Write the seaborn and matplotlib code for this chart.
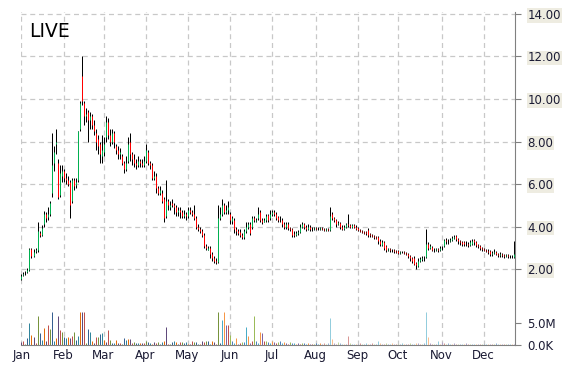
import numpy as np
import pandas as pd
import matplotlib
matplotlib.use("Agg")
import matplotlib.pyplot as plt
import seaborn as sns

# daily OHLC per month
open_ = [
    1.55, 1.70, 1.80, 1.85, 1.95, 2.95, 2.60, 2.85, 2.90, 3.70, 3.60, 4.10, 4.60, 4.45, 4.60, 5.60, 7.00, 7.90, 7.00, 5.50, 6.40,
    6.60, 6.30, 6.20, 6.10, 5.20, 6.20, 5.95, 6.20, 8.60, 11.10, 9.80, 9.20, 9.40, 9.00, 9.20, 8.80, 8.40, 8.10, 7.90, 7.30,
    7.50, 8.20, 8.90, 8.30, 8.00, 8.40, 7.80, 7.60, 7.40, 7.30, 7.00, 6.70, 7.10, 8.00, 7.40, 7.20, 7.00, 6.90, 7.10, 7.00, 6.90,
    7.10, 7.50, 7.00, 6.90, 6.30, 6.40, 5.80, 5.60, 5.60, 5.30, 4.50, 5.20, 4.90, 5.10, 5.00, 4.90, 4.70, 4.80, 4.70, 4.50, 4.60,
    4.50, 4.80, 4.70, 4.60, 4.40, 4.00, 3.90, 3.80, 3.60, 3.10, 2.90, 3.00, 2.70, 2.50, 2.40, 2.35, 4.40, 4.60, 5.00, 4.70, 4.80,
    4.60, 4.25, 4.30, 3.90, 3.80, 3.75, 3.60, 3.50, 3.80, 4.00, 4.10, 4.00, 4.40, 4.25, 4.40, 4.70, 4.30, 4.20, 4.30, 4.55, 4.40,
    4.60, 4.70, 4.60, 4.45, 4.30, 4.30, 4.10, 4.00, 4.10, 3.95, 3.90, 3.65, 3.60, 3.70, 3.75, 4.00, 4.10, 4.00, 3.90, 4.00, 3.90, 3.90,
    3.95, 3.90, 3.90, 3.95, 3.90, 3.85, 3.90, 3.85, 4.60, 4.40, 4.30, 4.10, 4.15, 4.00, 3.90, 4.00, 4.10, 4.05, 4.00, 4.05, 4.00,
    3.95, 3.85, 3.80, 3.75, 3.75, 3.85, 3.65, 3.60, 3.55, 3.50, 3.50, 3.30, 3.15, 3.25, 3.10, 2.90, 2.95, 2.90, 2.90, 2.85,
    2.85, 2.75, 2.80, 2.80, 2.75, 2.70, 2.60, 2.50, 2.50, 2.30, 2.15, 2.40, 2.45, 2.50, 2.55, 3.20, 3.00, 3.05, 2.90, 2.90, 2.95, 2.90,
    3.00, 3.10, 3.35, 3.30, 3.30, 3.35, 3.45, 3.55, 3.40, 3.30, 3.25, 3.25, 3.20, 3.20, 3.15, 3.20, 3.35, 3.25, 3.15, 3.10, 3.00,
    2.95, 2.90, 2.85, 2.85, 2.70, 2.75, 2.80, 2.70, 2.65, 2.70, 2.65, 2.60, 2.65, 2.60, 2.55, 2.55,
]
high = [
    1.75, 1.85, 1.90, 2.05, 3.00, 3.00, 2.95, 3.00, 4.20, 3.80, 4.05, 4.75, 4.70, 4.90, 5.20, 8.40, 7.80, 8.60, 7.20, 6.90, 6.90,
    6.70, 6.50, 6.40, 6.20, 6.30, 6.30, 6.30, 8.50, 9.90, 12.00, 9.90, 9.60, 9.50, 9.40, 9.30, 9.00, 8.60, 8.30, 8.00, 8.30,
    8.20, 9.20, 9.10, 8.60, 8.60, 8.50, 7.90, 7.80, 7.70, 7.40, 7.10, 7.30, 8.20, 8.40, 7.50, 7.40, 7.20, 7.30, 7.20, 7.20, 7.30,
    7.90, 7.60, 7.10, 7.00, 6.60, 6.50, 5.90, 5.90, 5.70, 5.40, 6.20, 5.30, 5.20, 5.30, 5.10, 5.00, 4.90, 4.90, 4.80, 4.80, 4.70,
    4.90, 4.90, 4.80, 5.00, 4.50, 4.10, 4.00, 3.90, 3.70, 3.20, 3.10, 3.10, 2.80, 2.60, 2.50, 5.00, 4.90, 5.30, 5.10, 5.00, 5.20,
    4.70, 4.50, 4.40, 4.00, 3.90, 3.90, 3.70, 3.90, 4.20, 4.20, 4.20, 4.50, 4.50, 4.40, 4.90, 4.80, 4.40, 4.40, 4.60, 4.60, 4.80,
    4.80, 4.80, 4.70, 4.50, 4.50, 4.40, 4.20, 4.20, 4.20, 4.00, 3.95, 3.80, 3.80, 3.85, 4.10, 4.20, 4.15, 4.05, 4.10, 4.05, 4.00, 4.00,
    4.00, 4.00, 4.00, 4.00, 3.95, 3.95, 3.95, 4.90, 4.70, 4.45, 4.35, 4.25, 4.20, 4.05, 4.05, 4.15, 4.60, 4.10, 4.10, 4.10, 4.05,
    4.00, 3.90, 3.85, 3.80, 3.80, 3.95, 3.70, 3.65, 3.60, 3.55, 3.55, 3.40, 3.35, 3.30, 3.15, 3.00, 3.00, 2.95, 2.95, 2.90,
    2.90, 2.85, 2.85, 2.85, 2.80, 2.75, 2.65, 2.55, 2.60, 2.35, 2.50, 2.55, 2.60, 2.60, 3.90, 3.25, 3.20, 3.10, 3.00, 3.00, 3.00, 3.10,
    3.10, 3.40, 3.45, 3.40, 3.45, 3.55, 3.60, 3.60, 3.45, 3.35, 3.30, 3.30, 3.30, 3.25, 3.35, 3.40, 3.40, 3.30, 3.20, 3.15, 3.05,
    3.00, 2.95, 2.95, 2.90, 2.85, 2.95, 2.85, 2.75, 2.80, 2.75, 2.70, 2.70, 2.70, 2.65, 2.65, 3.30,
]
low = [
    1.50, 1.65, 1.72, 1.80, 1.90, 2.50, 2.55, 2.75, 2.80, 3.50, 3.55, 4.00, 4.20, 4.30, 4.50, 5.40, 6.60, 7.40, 5.30, 5.40, 6.10,
    6.10, 6.00, 5.90, 4.40, 5.10, 5.70, 5.80, 6.10, 8.50, 9.70, 8.80, 8.90, 8.00, 8.60, 8.60, 8.30, 7.60, 7.40, 7.00, 7.00,
    7.30, 8.00, 8.10, 7.80, 7.90, 7.70, 7.40, 7.20, 7.20, 6.90, 6.50, 6.60, 7.00, 7.10, 6.90, 6.80, 6.70, 6.80, 6.80, 6.80, 6.80,
    7.00, 6.90, 6.70, 6.20, 6.20, 5.60, 5.50, 5.50, 5.10, 4.20, 4.40, 4.80, 4.80, 4.90, 4.60, 4.50, 4.50, 4.40, 4.40, 4.40, 4.30,
    4.40, 4.60, 4.50, 4.30, 3.90, 3.80, 3.70, 3.50, 3.00, 2.90, 2.90, 2.50, 2.40, 2.30, 2.25, 2.30, 4.30, 4.50, 4.60, 4.60, 4.60,
    4.10, 4.10, 3.70, 3.60, 3.60, 3.50, 3.40, 3.40, 3.70, 3.90, 3.60, 3.90, 4.20, 4.20, 4.30, 4.20, 4.10, 4.20, 4.20, 4.20, 4.30,
    4.50, 4.50, 4.30, 4.20, 4.20, 4.00, 3.90, 3.90, 3.85, 3.80, 3.50, 3.50, 3.55, 3.60, 3.70, 3.95, 3.90, 3.80, 3.85, 3.80, 3.80, 3.85,
    3.85, 3.85, 3.85, 3.85, 3.80, 3.80, 3.80, 3.80, 4.30, 4.20, 4.00, 4.05, 3.90, 3.85, 3.85, 3.95, 4.00, 3.95, 3.95, 3.95, 3.85,
    3.80, 3.75, 3.70, 3.65, 3.60, 3.50, 3.50, 3.50, 3.40, 3.40, 3.20, 3.10, 3.10, 2.90, 2.80, 2.85, 2.80, 2.80, 2.75, 2.75,
    2.70, 2.70, 2.75, 2.70, 2.65, 2.50, 2.40, 2.30, 2.20, 2.00, 2.10, 2.35, 2.40, 2.40, 2.50, 2.90, 2.95, 2.85, 2.80, 2.85, 2.80, 2.85,
    2.90, 3.05, 3.20, 3.20, 3.25, 3.30, 3.40, 3.30, 3.20, 3.15, 3.10, 3.10, 3.10, 3.05, 3.10, 3.15, 3.15, 3.05, 3.00, 2.90, 2.85,
    2.85, 2.80, 2.70, 2.60, 2.60, 2.70, 2.65, 2.55, 2.55, 2.55, 2.50, 2.55, 2.50, 2.50, 2.50, 2.50,
]
close = [
    1.65, 1.75, 1.80, 1.95, 2.95, 2.60, 2.80, 2.90, 3.80, 3.60, 3.95, 4.60, 4.40, 4.60, 5.10, 6.90, 7.50, 8.00, 5.40, 6.50, 6.60,
    6.30, 6.20, 6.00, 5.00, 6.20, 5.90, 6.10, 8.50, 9.80, 9.90, 9.20, 9.30, 9.00, 9.20, 8.80, 8.50, 8.00, 7.80, 7.40, 7.60,
    7.90, 8.90, 8.30, 8.00, 8.40, 8.00, 7.60, 7.40, 7.50, 7.00, 6.70, 7.00, 7.90, 7.40, 7.20, 7.00, 6.90, 7.10, 7.00, 6.90, 7.10,
    7.60, 7.00, 6.90, 6.30, 6.40, 5.80, 5.60, 5.70, 5.20, 4.40, 5.20, 5.00, 5.00, 5.00, 4.90, 4.70, 4.80, 4.70, 4.50, 4.60, 4.50,
    4.80, 4.70, 4.60, 4.40, 4.00, 3.90, 3.80, 3.60, 3.10, 3.00, 3.00, 2.70, 2.50, 2.40, 2.35, 4.40, 4.60, 5.00, 4.70, 4.80, 4.90,
    4.30, 4.40, 3.90, 3.80, 3.70, 3.60, 3.50, 3.80, 4.00, 4.10, 3.70, 4.40, 4.30, 4.30, 4.60, 4.30, 4.20, 4.30, 4.50, 4.30, 4.60,
    4.70, 4.60, 4.40, 4.30, 4.30, 4.10, 4.00, 4.10, 3.95, 3.90, 3.60, 3.60, 3.70, 3.75, 4.00, 4.10, 4.00, 3.90, 4.00, 3.90, 3.90, 3.95,
    3.90, 3.90, 3.95, 3.90, 3.85, 3.90, 3.85, 4.50, 4.40, 4.30, 4.10, 4.15, 4.00, 3.90, 4.00, 4.10, 4.05, 4.00, 4.05, 4.00, 3.90,
    3.85, 3.80, 3.75, 3.70, 3.70, 3.60, 3.60, 3.55, 3.50, 3.45, 3.30, 3.20, 3.25, 3.00, 2.90, 2.95, 2.90, 2.90, 2.85, 2.80,
    2.75, 2.80, 2.80, 2.75, 2.70, 2.60, 2.50, 2.40, 2.25, 2.20, 2.40, 2.45, 2.50, 2.50, 3.20, 3.00, 3.10, 2.90, 2.90, 2.95, 2.90, 3.00,
    3.00, 3.35, 3.30, 3.30, 3.35, 3.45, 3.50, 3.40, 3.30, 3.25, 3.20, 3.20, 3.20, 3.15, 3.25, 3.30, 3.25, 3.15, 3.10, 3.00, 2.95,
    2.90, 2.85, 2.80, 2.70, 2.75, 2.80, 2.70, 2.65, 2.70, 2.65, 2.60, 2.65, 2.60, 2.60, 2.55, 2.70,
]
# volume in millions
volume = [
    0.6, 0.8, 0.3, 1.5, 5.0, 2.2, 1.9, 0.5, 6.6, 2.7, 1.2, 3.8, 0.8, 4.5, 3.6, 7.5, 0.8, 1.5, 6.6, 3.4, 3.0,
    1.9, 1.5, 1.9, 1.5, 2.0, 3.0, 1.2, 2.0, 7.5, 7.5, 7.5, 0.4, 3.6, 3.0, 1.0, 0.5, 1.9, 1.9, 2.5, 2.8,
    1.2, 0.6, 3.4, 1.2, 0.5, 0.4, 1.2, 0.5, 0.4, 0.3, 1.5, 1.2, 1.3, 1.3, 0.4, 0.6, 0.5, 0.5, 0.5, 0.4, 0.5,
    1.0, 0.6, 0.4, 0.3, 0.6, 0.5, 0.6, 0.3, 0.6, 1.0, 4.2, 0.3, 0.3, 0.6, 0.8, 0.6, 0.3, 0.6, 0.6, 0.5, 0.6,
    0.3, 0.3, 0.8, 0.6, 0.6, 0.3, 0.3, 0.8, 0.6, 0.8, 1.0, 0.3, 0.8, 0.6, 0.3, 7.5, 0.4, 5.7, 7.5, 4.5, 4.5,
    2.2, 1.0, 0.5, 1.5, 0.3, 0.5, 0.6, 0.6, 4.2, 2.0, 0.4, 1.0, 6.6, 0.8, 0.5, 3.0, 2.7, 1.0, 0.8, 0.6, 0.5,
    0.8, 0.6, 0.4, 0.6, 0.8, 0.5, 0.6, 0.5, 0.3, 0.6, 0.4, 0.5, 0.3, 0.4, 0.3, 0.5, 0.4, 0.3, 0.4, 0.3, 0.3, 0.3,
    0.4, 0.3, 0.5, 0.3, 0.4, 0.3, 0.4, 6.2, 1.4, 0.5, 0.3, 0.6, 0.4, 0.3, 0.3, 0.3, 2.1, 0.4, 0.3, 0.3, 0.3,
    0.3, 0.4, 0.3, 0.3, 0.5, 0.3, 0.3, 0.4, 0.3, 0.3, 1.0, 0.4, 0.3, 0.3, 0.4, 0.3, 0.3, 0.5, 0.3, 0.3,
    0.3, 0.3, 0.4, 0.3, 0.3, 0.3, 0.4, 0.3, 0.3, 0.5, 0.4, 0.3, 0.3, 0.5, 7.5, 1.9, 0.4, 0.3, 0.3, 0.3, 0.8, 0.3,
    0.6, 0.4, 0.3, 0.5, 0.3, 0.3, 0.4, 0.3, 0.3, 0.3, 0.3, 0.3, 0.4, 0.3, 0.3, 0.3, 0.3, 0.3, 0.3, 0.3, 0.3,
    0.3, 0.3, 0.3, 0.3, 0.3, 0.3, 0.4, 0.3, 0.3, 0.3, 0.3, 0.3, 0.3, 0.3, 0.3, 0.3,
]
month_labels = ["Jan", "Feb", "Mar", "Apr", "May", "Jun", "Jul", "Aug", "Sep", "Oct", "Nov", "Dec"]
month_start = [0, 21, 41, 62, 83, 104, 125, 147, 168, 188, 210, 231]
price_ticks = [2, 4, 6, 8, 10, 12, 14]
title = "LIVE"

sns.set_style("white")
plt.rcParams["font.family"] = ["DejaVu Sans"]

df = pd.DataFrame({"day": np.arange(len(close)), "open": open_, "high": high,
                   "low": low, "close": close, "vol": volume})

# office-like palette, darker early in the year, paler later
dark = sns.color_palette(["#604A7B", "#C0504D", "#77933C", "#376092", "#31859C", "#E46C0A"])
mid = sns.color_palette(["#8064A2", "#C0504D", "#9BBB59", "#4F81BD", "#4BACC6", "#F79646"])
light = sns.color_palette(["#B3A2C7", "#D99694", "#C3D69B", "#95B3D7", "#93CDDD", "#FAC090"])
bar_colors = []
for i in df["day"]:
    tier = dark if i < 100 else (mid if i < 150 else light)
    bar_colors.append(tier[i % 6])

fig = plt.figure(figsize=(5.7, 3.7), dpi=100)
L, W = 21 / 570, 494 / 570
B = 25 / 370
ax = fig.add_axes([L, B, W, 333 / 370])
axv = fig.add_axes([L, B, W, 33 / 370])
axv.patch.set_alpha(0)

grid_kw = dict(color="#C8C8C8", lw=0.9, ls=(0, (4, 3)), zorder=0)
for m in month_start:
    ax.axvline(m, **grid_kw)
for p in price_ticks:
    ax.axhline(p, **grid_kw)

# candles: 1px black high-low wick, 1px coloured open-close body on top
px = 0.72  # one pixel at 100 dpi
up = df["close"] >= df["open"]
ax.vlines(df["day"], df["low"], df["high"], color="black", lw=px, zorder=2)
ax.vlines(df["day"], df["open"], df["close"],
          colors=np.where(up, "#00B050", "#FF0000"), lw=px, zorder=3)

# volume
axv.vlines(df["day"], 0, df["vol"], colors=bar_colors, lw=px)

# day centres land on pixel centres
xlim = (-0.25, 246.75)
for a in (ax, axv):
    a.set_xlim(*xlim)
    a.set_xlabel("")
    a.set_ylabel("")
    for s in ("left", "top", "bottom", "right"):
        a.spines[s].set_visible(False)

ax.set_ylim(-1.576, 14.094)
ax.spines["right"].set_visible(True)
ax.spines["right"].set_color("#808080")
ax.yaxis.tick_right()
ax.set_yticks(price_ticks)
ax.set_yticklabels([f"{p:.2f}" for p in price_ticks])
ax.tick_params(axis="y", right=True, length=4, color="#808080", pad=5,
               labelsize=8.5, labelcolor="#1a1a33")
for t in ax.get_yticklabels():
    t.set_bbox(dict(facecolor="#EEECE1", edgecolor="none", pad=0.6))
ax.set_xticks([])

axv.set_ylim(0, 7.5)
axv.spines["bottom"].set_visible(True)
axv.spines["bottom"].set_color("#808080")
axv.yaxis.tick_right()
axv.set_yticks([0, 5])
axv.set_yticklabels(["0.0K", "5.0M"])
axv.tick_params(axis="y", right=True, length=4, color="#808080", pad=5,
                labelsize=8.5, labelcolor="#1a1a33")
axv.set_xticks(month_start)
axv.set_xticklabels(month_labels)
axv.tick_params(axis="x", length=0, pad=3, labelsize=8.5, labelcolor="#1a1a33")

fig.text(29 / 570, 1 - 37 / 370, title, fontsize=13.5, color="black", va="baseline")

fig.savefig("out.png", dpi=100)
